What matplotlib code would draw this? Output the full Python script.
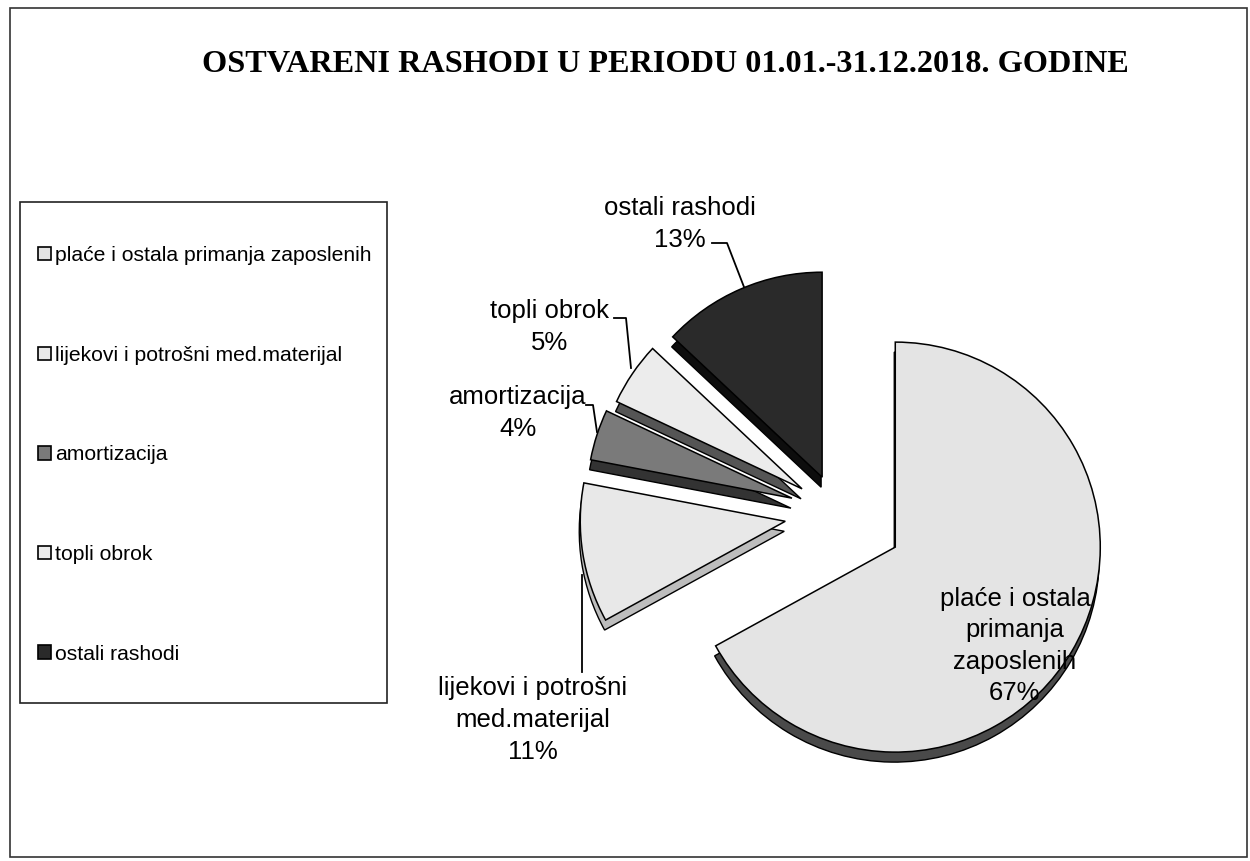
import matplotlib
matplotlib.use("Agg")
import matplotlib.pyplot as plt
from matplotlib.patches import Rectangle

# data
categories = ["plaće i ostala primanja zaposlenih",
              "lijekovi i potrošni med.materijal",
              "amortizacija",
              "topli obrok",
              "ostali rashodi"]
label_names = ["plaće i ostala\nprimanja\nzaposlenih",
               "lijekovi i potrošni\nmed.materijal",
               "amortizacija",
               "topli obrok",
               "ostali rashodi"]
shares = [67, 11, 4, 5, 13]
title = "OSTVARENI RASHODI U PERIODU 01.01.-31.12.2018. GODINE"

# styling
top_colors = ["#e4e4e4", "#e8e8e8", "#7a7a7a", "#ececec", "#2a2a2a"]
side_colors = ["#4a4a4a", "#bdbdbd", "#333333", "#555555", "#0d0d0d"]
explode = [67, 53, 48, 43, 39]          # pixels
W, H = 1250, 861
cx, cy = 837.6, 513                     # pie centre (image pixels)
radius = 205
depth_dx, depth_dy = -1, 10

fig = plt.figure(figsize=(W / 100, H / 100), dpi=100)
fig.patch.set_facecolor("white")

ax = fig.add_axes([0, 0, 1, 1])
# side (depth) layer
ax.pie(shares, explode=explode, startangle=90, counterclock=False,
       radius=radius, center=(cx + depth_dx, H - cy - depth_dy),
       colors=side_colors, frame=False,
       wedgeprops=dict(edgecolor="black", linewidth=1.0))
# top layer
wedges, _ = ax.pie(shares, explode=explode, startangle=90, counterclock=False,
                   radius=radius, center=(cx, H - cy),
                   colors=top_colors, frame=False,
                   wedgeprops=dict(edgecolor="black", linewidth=1.1))
ax.set_aspect("auto")
ax.set_xlim(0, W)
ax.set_ylim(0, H)
ax.axis("off")

# overlay in image pixel coordinates
ov = fig.add_axes([0, 0, 1, 1])
ov.set_xlim(0, W)
ov.set_ylim(H, 0)
ov.axis("off")

ov.add_patch(Rectangle((10, 8), 1237, 849, fill=False, edgecolor="#333333", lw=1.2))
ov.text(665, 65, title, ha="center", va="center", fontsize=23.2,
        fontweight="bold", family="Liberation Serif")

# legend
ov.add_patch(Rectangle((20, 202), 367, 501, fill=False, edgecolor="#222222", lw=1.2))
leg = fig.legend(wedges, categories, loc="upper left",
                 bbox_to_anchor=(38 / W, 1 - 246 / H), frameon=False,
                 prop={"family": "Liberation Sans", "size": 15.2},
                 labelspacing=3.82, handlelength=0.6, handleheight=0.6,
                 handletextpad=0.2, borderpad=0, borderaxespad=0)
for h in leg.legend_handles:
    h.set_edgecolor("black")
    h.set_linewidth(1.2)

# slice labels
label_pos = [(1015, 646), (533, 720), (518, 413), (550, 327), (680, 224)]
for name, s, (lx, ly) in zip(label_names, shares, label_pos):
    ov.text(lx, ly, f"{name}\n{s}%", ha="center", va="center", fontsize=18.5,
            family="Liberation Sans", linespacing=1.4)

# leader lines
leaders = [
    [(712, 243), (727, 243), (744, 287)],
    [(614, 318), (626, 318), (631, 368)],
    [(586, 405), (593, 405), (597, 432)],
    [(582, 672), (582, 575)],
]
for pts in leaders:
    xs, ys = zip(*pts)
    ov.plot(xs, ys, color="black", lw=1.3)

fig.savefig("out.png", dpi=100)
